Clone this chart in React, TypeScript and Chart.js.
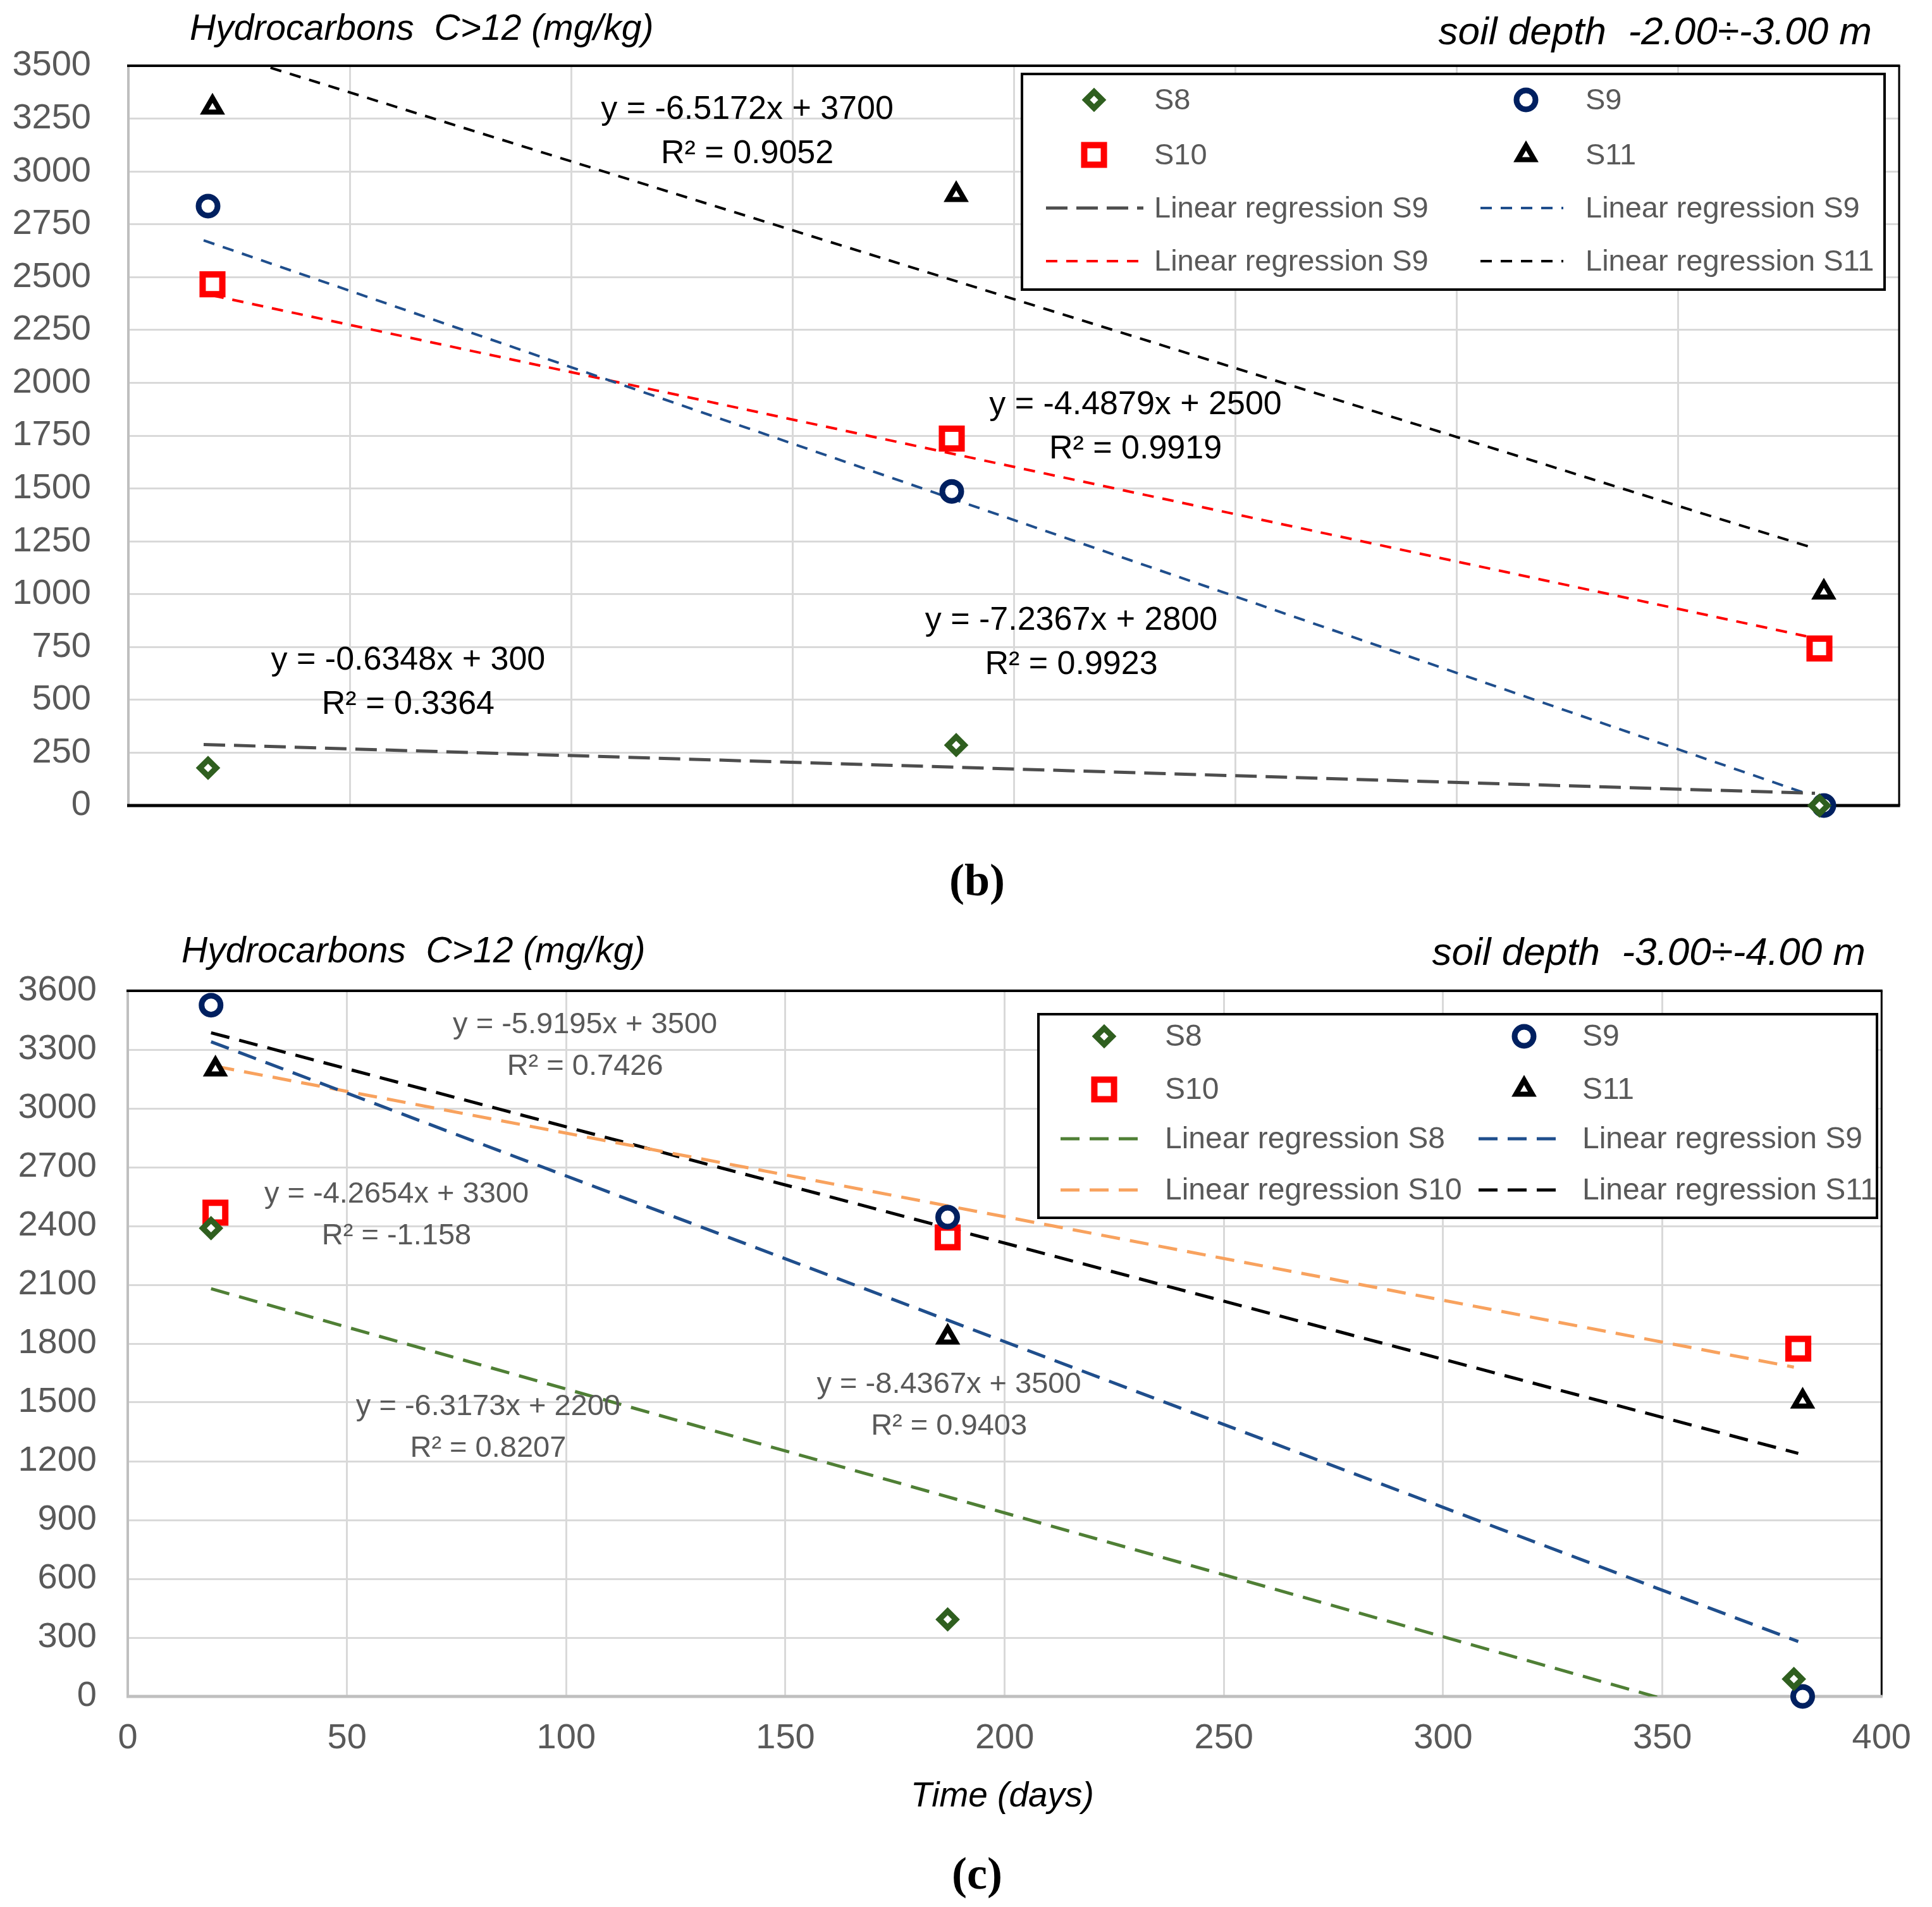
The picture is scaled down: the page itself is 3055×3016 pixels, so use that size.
import React, { useEffect, useRef } from 'react';
import { Chart, registerables } from 'chart.js';

Chart.register(...registerables);

const FONT = "'Liberation Sans', Arial, sans-serif";

// ---------------- data: panel (b) soil depth -2.00 ÷ -3.00 m ----------------
const B_DAYS_S8 = [18, 187, 382];
const B_VALUES_S8 = [178, 286, 0];
const B_DAYS_S9 = [18, 186, 383];
const B_VALUES_S9 = [2836, 1486, 0];
const B_DAYS_S10 = [19, 186, 382];
const B_VALUES_S10 = [2466, 1736, 743];
const B_DAYS_S11 = [19, 187, 383];
const B_VALUES_S11 = [3303, 2890, 1009];
// regression line end points (start, end) per series S8, S9, S10, S11
const B_TREND_DAYS = [[17, 381], [17, 379], [19, 379], [19, 381]];
const B_TREND_VALUES = [[289, 58], [2674, 57], [2413, 801], [3576, 1216]];
const B_EQUATIONS = ['y = -0.6348x + 300', 'y = -7.2367x + 2800', 'y = -4.4879x + 2500', 'y = -6.5172x + 3700'];
const B_R2 = ['R² = 0.3364', 'R² = 0.9923', 'R² = 0.9919', 'R² = 0.9052'];
const B_LEGEND = ['S8', 'S9', 'S10', 'S11', 'Linear regression S9', 'Linear regression S9', 'Linear regression S9', 'Linear regression S11'];
const B_Y_MAX = 3500;
const B_Y_STEP = 250;

// ---------------- data: panel (c) soil depth -3.00 ÷ -4.00 m ----------------
const C_DAYS_S8 = [19, 187, 380];
const C_VALUES_S8 = [2389, 393, 89];
const C_DAYS_S9 = [19, 187, 382];
const C_VALUES_S9 = [3527, 2445, 0];
const C_DAYS_S10 = [20, 187, 381];
const C_VALUES_S10 = [2468, 2342, 1774];
const C_DAYS_S11 = [20, 187, 382];
const C_VALUES_S11 = [3200, 1832, 1506];
const C_TREND_DAYS = [[19, 381], [19, 381], [20, 380], [19, 381]];
const C_TREND_VALUES = [[2080, -207], [3340, 280], [3215, 1680], [3386, 1240]];
const C_EQUATIONS = ['y = -6.3173x + 2200', 'y = -8.4367x + 3500', 'y = -4.2654x + 3300', 'y = -5.9195x + 3500'];
const C_R2 = ['R² = 0.8207', 'R² = 0.9403', 'R² = -1.158', 'R² = 0.7426'];
const C_LEGEND = ['S8', 'S9', 'S10', 'S11', 'Linear regression S8', 'Linear regression S9', 'Linear regression S10', 'Linear regression S11'];
const C_Y_MAX = 3600;
const C_Y_STEP = 300;

const X_MAX = 400;
const X_STEP = 50;

// ---------------- styles ----------------
const MARKERS = [
  { pointStyle: 'rectRot', radius: 13, borderWidth: 9, color: '#2F5F1F' },
  { pointStyle: 'circle', radius: 15, borderWidth: 9, color: '#002060' },
  { pointStyle: 'rect', radius: 22, borderWidth: 10, color: '#FF0000' },
  { pointStyle: 'triangle', radius: 15, borderWidth: 8, color: '#000000' },
];

const B_TREND_STYLES = [
  { color: '#4D4D4D', width: 5, dash: [34, 14] },
  { color: '#1F4E8C', width: 4, dash: [18, 14] },
  { color: '#FF0000', width: 4, dash: [18, 14] },
  { color: '#000000', width: 4, dash: [18, 14] },
];
const C_TREND_STYLES = [
  { color: '#4F7F35', width: 5, dash: [30, 16] },
  { color: '#1F4E8C', width: 5, dash: [30, 16] },
  { color: '#F8A25E', width: 5, dash: [30, 16] },
  { color: '#000000', width: 5, dash: [30, 16] },
];

// label anchor positions (data coordinates: day, value) for equation lines
const B_LABEL_POS = [[63.2, 686], [213, 875], [227.5, 1894], [139.8, 3291]];
const C_LABEL_POS = [[82.2, 1477], [187.3, 1590], [61.3, 2561], [104.3, 3426]];

const PANEL_B = {
  days: [B_DAYS_S8, B_DAYS_S9, B_DAYS_S10, B_DAYS_S11],
  values: [B_VALUES_S8, B_VALUES_S9, B_VALUES_S10, B_VALUES_S11],
  trendDays: B_TREND_DAYS,
  trendValues: B_TREND_VALUES,
  equations: B_EQUATIONS,
  r2: B_R2,
  legend: B_LEGEND,
  yMax: B_Y_MAX,
  yStep: B_Y_STEP,
  trendStyles: B_TREND_STYLES,
  labelPos: B_LABEL_POS,
  canvasTop: 0,
  canvasHeight: 1380,
  padding: { top: 104, right: 52, bottom: 106, left: 0 },
  yWidth: 203,
  xHeight: 0,
  yTickPadding: 59,
  showX: false,
  border: { top: '#000000', right: '#000000', bottom: '#000000', left: '#BFBFBF' },
  legendBox: { left: 1616, top: 117, right: 2980, bottom: 458 },
  legendRows: [158, 245, 329, 413],
  legendCols: [
    { marker: 1730, from: 1654, to: 1808, text: 1825 },
    { marker: 2413, from: 2341, to: 2472, text: 2507 },
  ],
  legendFont: 47,
  annFont: 52,
  annColor: '#000000',
  annGap: 70,
};

const PANEL_C = {
  days: [C_DAYS_S8, C_DAYS_S9, C_DAYS_S10, C_DAYS_S11],
  values: [C_VALUES_S8, C_VALUES_S9, C_VALUES_S10, C_VALUES_S11],
  trendDays: C_TREND_DAYS,
  trendValues: C_TREND_VALUES,
  equations: C_EQUATIONS,
  r2: C_R2,
  legend: C_LEGEND,
  yMax: C_Y_MAX,
  yStep: C_Y_STEP,
  trendStyles: C_TREND_STYLES,
  labelPos: C_LABEL_POS,
  canvasTop: 1430,
  canvasHeight: 1586,
  padding: { top: 137, right: 60, bottom: 213, left: 0 },
  yWidth: 202,
  xHeight: 120,
  yTickPadding: 49,
  showX: true,
  border: { top: '#000000', right: '#000000', bottom: '#BFBFBF', left: '#BFBFBF' },
  legendBox: { left: 1642, top: 174, right: 2968, bottom: 496 },
  legendRows: [209, 293, 371, 452],
  legendCols: [
    { marker: 1746, from: 1677, to: 1808, text: 1842 },
    { marker: 2410, from: 2338, to: 2470, text: 2502 },
  ],
  legendFont: 48,
  annFont: 47,
  annColor: '#595959',
  annGap: 66,
};

function drawMarker(ctx: CanvasRenderingContext2D, m: any, x: number, y: number) {
  const r = m.radius;
  ctx.save();
  ctx.lineWidth = m.borderWidth;
  ctx.strokeStyle = m.color;
  ctx.fillStyle = '#FFFFFF';
  ctx.setLineDash([]);
  ctx.beginPath();
  if (m.pointStyle === 'circle') {
    ctx.arc(x, y, r, 0, Math.PI * 2);
  } else if (m.pointStyle === 'rect') {
    const s = r * Math.SQRT1_2;
    ctx.rect(x - s, y - s, 2 * s, 2 * s);
  } else if (m.pointStyle === 'rectRot') {
    ctx.moveTo(x - r, y);
    ctx.lineTo(x, y - r);
    ctx.lineTo(x + r, y);
    ctx.lineTo(x, y + r);
    ctx.closePath();
  } else {
    let a = 0;
    ctx.moveTo(x + Math.sin(a) * r, y - Math.cos(a) * r);
    a += (2 * Math.PI) / 3;
    ctx.lineTo(x + Math.sin(a) * r, y - Math.cos(a) * r);
    a += (2 * Math.PI) / 3;
    ctx.lineTo(x + Math.sin(a) * r, y - Math.cos(a) * r);
    ctx.closePath();
  }
  ctx.fill();
  ctx.stroke();
  ctx.restore();
}

function makeDecor(p: any) {
  return {
    id: 'excelDecor',
    beforeDatasetsDraw(chart: any) {
      const { ctx, chartArea } = chart;
      const { left, right, top, bottom } = chartArea;
      ctx.save();
      ctx.setLineDash([]);
      ctx.lineWidth = 4;
      ctx.strokeStyle = p.border.left;
      ctx.beginPath(); ctx.moveTo(left, top); ctx.lineTo(left, bottom); ctx.stroke();
      ctx.lineWidth = 3;
      ctx.strokeStyle = p.border.right;
      ctx.beginPath(); ctx.moveTo(right, top); ctx.lineTo(right, bottom); ctx.stroke();
      ctx.lineWidth = 4;
      ctx.strokeStyle = p.border.top;
      ctx.beginPath(); ctx.moveTo(left - 2, top); ctx.lineTo(right + 1.5, top); ctx.stroke();
      ctx.lineWidth = 5;
      ctx.strokeStyle = p.border.bottom;
      ctx.beginPath(); ctx.moveTo(left - 2, bottom); ctx.lineTo(right + 1.5, bottom); ctx.stroke();
      ctx.restore();
    },
    afterDatasetsDraw(chart: any) {
      const { ctx } = chart;
      const xs = chart.scales.x;
      const ys = chart.scales.y;
      // regression equations
      ctx.save();
      ctx.font = `${p.annFont}px ${FONT}`;
      ctx.fillStyle = p.annColor;
      ctx.textAlign = 'center';
      ctx.textBaseline = 'middle';
      p.labelPos.forEach((pos: number[], i: number) => {
        const x = xs.getPixelForValue(pos[0]);
        const y = ys.getPixelForValue(pos[1]);
        ctx.fillText(p.equations[i], x, y);
        ctx.fillText(p.r2[i], x, y + p.annGap);
      });
      ctx.restore();

      // legend
      const b = p.legendBox;
      ctx.save();
      ctx.fillStyle = '#FFFFFF';
      ctx.fillRect(b.left, b.top, b.right - b.left, b.bottom - b.top);
      ctx.lineWidth = 4;
      ctx.strokeStyle = '#000000';
      ctx.setLineDash([]);
      ctx.strokeRect(b.left, b.top, b.right - b.left, b.bottom - b.top);
      ctx.font = `${p.legendFont}px ${FONT}`;
      ctx.textAlign = 'left';
      ctx.textBaseline = 'middle';
      p.legend.forEach((label: string, i: number) => {
        const row = Math.floor(i / 2);
        const col = p.legendCols[i % 2];
        const y = p.legendRows[row];
        if (i < 4) {
          drawMarker(ctx, MARKERS[i], col.marker, y);
        } else {
          const st = p.trendStyles[i - 4];
          ctx.save();
          ctx.strokeStyle = st.color;
          ctx.lineWidth = st.width;
          ctx.setLineDash(st.dash);
          ctx.beginPath();
          ctx.moveTo(col.from, y);
          ctx.lineTo(col.to, y);
          ctx.stroke();
          ctx.restore();
        }
        ctx.fillStyle = '#595959';
        ctx.fillText(label, col.text, y + 2);
      });
      ctx.restore();
    },
  };
}

function buildConfig(p: any) {
  const datasets: any[] = [];
  p.days.forEach((d: number[], i: number) => {
    const m = MARKERS[i];
    datasets.push({
      label: p.legend[i],
      data: d.map((x, k) => ({ x, y: p.values[i][k] })),
      showLine: false,
      pointStyle: m.pointStyle,
      pointRadius: m.radius,
      pointHoverRadius: m.radius,
      pointBorderWidth: m.borderWidth,
      pointBorderColor: m.color,
      pointBackgroundColor: '#FFFFFF',
      clip: false,
      order: 0,
    });
  });
  p.trendDays.forEach((d: number[], i: number) => {
    const st = p.trendStyles[i];
    datasets.push({
      label: p.legend[i + 4],
      data: d.map((x, k) => ({ x, y: p.trendValues[i][k] })),
      showLine: true,
      borderColor: st.color,
      borderWidth: st.width,
      borderDash: st.dash,
      borderCapStyle: 'butt',
      pointRadius: 0,
      pointHoverRadius: 0,
      fill: false,
      tension: 0,
      order: 1,
    });
  });
  const tickFont = { family: FONT, size: 56 };
  return {
    type: 'scatter',
    data: { datasets },
    options: {
      animation: false,
      responsive: false,
      maintainAspectRatio: false,
      devicePixelRatio: 1,
      events: [],
      layout: { padding: p.padding },
      plugins: { legend: { display: false }, tooltip: { enabled: false }, title: { display: false } },
      scales: {
        x: {
          type: 'linear',
          min: 0,
          max: X_MAX,
          ticks: {
            stepSize: X_STEP,
            display: p.showX,
            padding: 33,
            font: tickFont,
            color: '#595959',
            maxRotation: 0,
            callback: (v: any) => String(v),
          },
          grid: { color: '#D9D9D9', lineWidth: 3, drawTicks: false },
          border: { display: false },
          afterFit: (s: any) => { s.height = p.xHeight; },
        },
        y: {
          type: 'linear',
          min: 0,
          max: p.yMax,
          ticks: {
            stepSize: p.yStep,
            padding: p.yTickPadding,
            font: tickFont,
            color: '#595959',
            callback: (v: any) => String(v),
          },
          grid: { color: '#D9D9D9', lineWidth: 3, drawTicks: false },
          border: { display: false },
          afterFit: (s: any) => { s.width = p.yWidth; },
        },
      },
    },
    plugins: [makeDecor(p)],
  };
}

function Panel({ p }: { p: any }) {
  const ref = useRef<HTMLCanvasElement | null>(null);
  useEffect(() => {
    if (!ref.current) return;
    const chart = new Chart(ref.current, buildConfig(p) as any);
    return () => chart.destroy();
  }, [p]);
  return (
    <canvas
      ref={ref}
      width={3055}
      height={p.canvasHeight}
      style={{ position: 'absolute', left: 0, top: p.canvasTop, width: 3055, height: p.canvasHeight }}
    />
  );
}

const textBase: React.CSSProperties = {
  position: 'absolute',
  fontFamily: FONT,
  whiteSpace: 'pre',
  lineHeight: 1,
  color: '#000',
};

export default function App() {
  return (
    <div style={{ position: 'absolute', left: 0, top: 0, width: 3055, height: 3016, background: '#fff', overflow: 'hidden' }}>
      <Panel p={PANEL_B} />
      <Panel p={PANEL_C} />
      <div style={{ ...textBase, left: 300, top: 15, fontSize: 57, fontStyle: 'italic' }}>Hydrocarbons  C&gt;12 (mg/kg)</div>
      <div style={{ ...textBase, right: 3055 - 2960, top: 18, fontSize: 62, fontStyle: 'italic' }}>soil depth  -2.00÷-3.00 m</div>
      <div style={{ ...textBase, left: 287, top: 1474, fontSize: 57, fontStyle: 'italic' }}>Hydrocarbons  C&gt;12 (mg/kg)</div>
      <div style={{ ...textBase, right: 3055 - 2950, top: 1474, fontSize: 62, fontStyle: 'italic' }}>soil depth  -3.00÷-4.00 m</div>
      <div style={{ ...textBase, left: 1585, top: 2841, transform: 'translate(-50%, -55%)', fontSize: 55, fontStyle: 'italic' }}>Time (days)</div>
      <div style={{ ...textBase, left: 1545, top: 1392, transform: 'translate(-50%, -50%)', fontSize: 72, fontWeight: 'bold', fontFamily: "'Liberation Serif', 'Times New Roman', serif" }}>(b)</div>
      <div style={{ ...textBase, left: 1545, top: 2963, transform: 'translate(-50%, -50%)', fontSize: 72, fontWeight: 'bold', fontFamily: "'Liberation Serif', 'Times New Roman', serif" }}>(c)</div>
    </div>
  );
}
